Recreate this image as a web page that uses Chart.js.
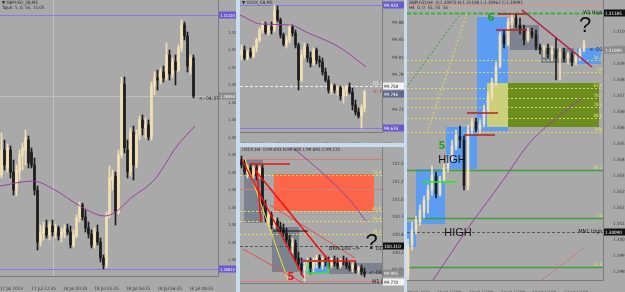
<!DOCTYPE html>
<html>
<head>
<meta charset="utf-8">
<title>Four MT4 panes</title>
<script src="https://cdn.jsdelivr.net/npm/chart.js@4.4.1/dist/chart.umd.min.js"></script>
<style>
  html, body { margin: 0; padding: 0; background: #a9a9a9; }
  body { position: relative; width: 625px; height: 292px; overflow: hidden; }
  .pane { position: absolute; }
  .sep { position: absolute; background: #c6dcef; }
</style>
</head>
<body>
<div class="pane" style="left:0;top:0;width:236px;height:292px"><canvas id="left"></canvas></div>
<div class="sep" style="left:236px;top:0;width:4px;height:292px"></div>
<div class="pane" style="left:240px;top:0;width:164px;height:143px"><canvas id="midTop"></canvas></div>
<div class="sep" style="left:240px;top:143px;width:164px;height:4px"></div>
<div class="pane" style="left:240px;top:147px;width:164px;height:145px"><canvas id="midBot"></canvas></div>
<div class="sep" style="left:404px;top:0;width:3px;height:292px"></div>
<div class="pane" style="left:407px;top:0;width:218px;height:292px"><canvas id="right"></canvas></div>
<script>
// ---------- left pane (GBPUSD M5) : [open, high, low, close] ----------
var leftCandles = [
  [1.30800,1.30884,1.30794,1.30850],[1.30850,1.30870,1.30810,1.30820],[1.30814,1.30862,1.30806,1.30854],
  [1.30850,1.30858,1.30794,1.30806],[1.30806,1.30830,1.30760,1.30770],[1.30770,1.30820,1.30758,1.30810],
  [1.30806,1.30850,1.30790,1.30840],[1.30838,1.30864,1.30810,1.30854],[1.30850,1.30890,1.30820,1.30874],
  [1.30870,1.30878,1.30814,1.30824],[1.30846,1.30854,1.30814,1.30820],[1.30820,1.30834,1.30760,1.30770],
  [1.30770,1.30778,1.30650,1.30666],[1.30666,1.30700,1.30658,1.30686],[1.30684,1.30706,1.30670,1.30694],
  [1.30694,1.30710,1.30674,1.30680],[1.30680,1.30706,1.30670,1.30700],[1.30698,1.30710,1.30678,1.30686],
  [1.30686,1.30702,1.30674,1.30694],[1.30694,1.30698,1.30670,1.30678],[1.30678,1.30694,1.30666,1.30686],
  [1.30686,1.30700,1.30674,1.30692],[1.30692,1.30702,1.30680,1.30686],[1.30686,1.30698,1.30654,1.30660],
  [1.30660,1.30690,1.30656,1.30680],[1.30678,1.30720,1.30674,1.30714],[1.30714,1.30746,1.30706,1.30740],
  [1.30740,1.30744,1.30710,1.30716],[1.30716,1.30730,1.30686,1.30694],[1.30694,1.30706,1.30674,1.30682],
  [1.30682,1.30690,1.30654,1.30660],[1.30660,1.30694,1.30654,1.30686],[1.30686,1.30700,1.30660,1.30666],
  [1.30666,1.30674,1.30626,1.30634],[1.30634,1.30640,1.30612,1.30620],[1.30620,1.30726,1.30614,1.30720],
  [1.30720,1.30818,1.30714,1.30794],[1.30790,1.30810,1.30770,1.30798],[1.30798,1.30806,1.30700,1.30726],
  [1.30726,1.30850,1.30722,1.30840],[1.30840,1.30996,1.30834,1.30982],[1.30982,1.30996,1.30844,1.30854],
  [1.30850,1.30870,1.30794,1.30806],[1.30806,1.30894,1.30798,1.30886],[1.30886,1.30898,1.30790,1.30820],
  [1.30820,1.30890,1.30814,1.30880],[1.30880,1.30918,1.30870,1.30910],[1.30910,1.30920,1.30880,1.30894],
  [1.30894,1.30914,1.30874,1.30900],[1.30900,1.30910,1.30870,1.30876],[1.30876,1.30986,1.30870,1.30978],
  [1.30978,1.31006,1.30960,1.30994],[1.30994,1.31010,1.30970,1.30990],[1.30990,1.31014,1.30982,1.31006],
  [1.31006,1.31018,1.30986,1.30994],[1.30994,1.31064,1.30990,1.31040],[1.31040,1.31050,1.30990,1.31002],
  [1.31002,1.31034,1.30994,1.31026],[1.31026,1.31040,1.30980,1.31010],[1.31010,1.31060,1.31006,1.31054],
  [1.31054,1.31110,1.31046,1.31100],[1.31100,1.31106,1.31070,1.31078],[1.31078,1.31086,1.31006,1.31018],
  [1.31018,1.31040,1.31002,1.31034],[1.31034,1.31040,1.30954,1.30958]
];
var leftMA = [[-0.5,1.30778],[10.5,1.30788],[17.8,1.30770],[26.2,1.30738],[34.5,1.30718],[38.5,1.30728],
  [42.8,1.30752],[51.2,1.30792],[58.5,1.30858],[64.5,1.30898]];
var leftTimes = ["17 Jul 2023", "17 Jul 22:35", "18 Jul 00:35", "18 Jul 02:35", "18 Jul 04:35", "18 Jul 06:35", "18 Jul 08:35"];
var leftTimeAt = [-0.5, 10, 20.5, 31, 41.5, 52, 62.5];
var leftPriceTicks = [1.31085,1.31050,1.31015,1.30980,1.30945,1.30910,1.30875,1.30840,1.30805,1.30770,1.30735,1.30700,1.30665,1.30630];
var leftRange = [1.31120, 1.30612];
var leftLast = 1.30958;
var leftSeparator = 17.2;

// ---------- middle top pane (USDX M5) ----------
var midTopCandles = [
  [99.820,99.840,99.810,99.830],[99.830,99.838,99.810,99.814],[99.814,99.830,99.810,99.826],
  [99.826,99.834,99.814,99.818],[99.818,99.838,99.814,99.834],[99.834,99.854,99.826,99.850],
  [99.850,99.874,99.846,99.870],[99.870,99.886,99.864,99.880],[99.880,99.886,99.862,99.866],
  [99.866,99.882,99.860,99.876],[99.876,99.886,99.862,99.870],[99.870,99.920,99.866,99.910],
  [99.910,99.918,99.886,99.890],[99.890,99.894,99.854,99.860],[99.860,99.864,99.838,99.842],
  [99.842,99.858,99.834,99.850],[99.850,99.882,99.844,99.876],[99.876,99.880,99.858,99.864],
  [99.864,99.870,99.834,99.840],[99.840,99.844,99.750,99.770],[99.770,99.830,99.766,99.820],
  [99.820,99.844,99.814,99.836],[99.836,99.842,99.806,99.814],[99.814,99.826,99.796,99.804],
  [99.804,99.834,99.800,99.830],[99.830,99.834,99.802,99.810],[99.810,99.818,99.796,99.806],
  [99.806,99.814,99.780,99.786],[99.786,99.794,99.766,99.770],[99.770,99.778,99.744,99.750],
  [99.750,99.762,99.742,99.758],[99.758,99.762,99.744,99.750],[99.750,99.758,99.740,99.754],
  [99.754,99.758,99.730,99.738],[99.738,99.756,99.724,99.750],[99.750,99.760,99.738,99.756],
  [99.756,99.764,99.742,99.746],[99.746,99.754,99.710,99.720],[99.720,99.730,99.700,99.706],
  [99.706,99.714,99.694,99.698],[99.698,99.720,99.674,99.714],[99.714,99.750,99.706,99.746]
];
var midTopMA = [[-0.5,99.900],[6.5,99.882],[16.5,99.880],[21.5,99.866],[32.5,99.836],[41.5,99.796]];
var midTopTimes = ["17 Jul 2023", "17 Jul 21:55", "18 Jul 04:55", "18 Jul 06:55", "18 Jul 08:55"];
var midTopTimeAt = [0, 11, 21, 31.5, 42];
var midTopPriceTicks = [99.885, 99.850, 99.815, 99.780, 99.745, 99.710];
var midTopRange = [99.920, 99.674];
var midTopDaily = 99.758;
var midTopLast = 99.746;

// ---------- middle bottom pane (USDX H4) ----------
var midBotCandles = [
  [101.600,101.660,101.480,101.525],[101.525,101.600,101.375,101.420],[101.420,101.525,101.330,101.480],
  [101.480,101.540,101.360,101.390],[101.390,101.510,101.330,101.480],[101.480,101.525,101.300,101.360],
  [101.360,101.510,101.330,101.480],[101.480,101.525,100.865,100.925],[100.925,101.000,100.670,100.730],
  [100.730,100.820,100.610,100.775],[100.775,100.820,100.565,100.625],[100.625,100.730,100.580,100.685],
  [100.685,100.730,100.550,100.595],[100.595,100.670,100.505,100.565],[100.565,100.640,100.460,100.505],
  [100.505,100.580,100.355,100.400],[100.400,100.475,100.250,100.310],[100.310,100.430,100.205,100.355],
  [100.355,100.400,100.070,100.130],[100.130,100.220,99.980,100.040],[100.040,100.130,99.875,99.950],
  [99.950,100.070,99.785,100.010],[100.010,100.130,99.920,100.070],[100.070,100.130,99.890,99.980],
  [99.980,100.130,99.920,100.070],[100.070,100.175,99.980,100.130],[100.130,100.175,99.980,100.025],
  [100.025,100.145,99.965,100.100],[100.100,100.160,100.010,100.070],[100.070,100.145,99.980,100.025],
  [100.025,100.130,99.980,100.100],[100.100,100.160,100.010,100.055],[100.055,100.130,99.965,100.010],
  [100.010,100.115,99.980,100.085],[100.085,100.160,100.025,100.070],[100.070,100.130,99.965,100.010],
  [100.010,100.070,99.935,99.980],[99.980,100.055,99.920,100.025],[100.025,100.070,99.905,99.950],
  [99.950,100.010,99.890,99.980],[99.980,100.025,99.875,99.920],[99.920,99.980,99.845,99.890]
];
var midBotMA = [[17.2,101.780],[22.8,101.570],[29.2,101.315],[35.8,101.015],[41.5,100.685]];
var midBotTimes = ["11 Jul 2023", "13 Jul 01:00", "14 Jul 09:00", "17 Jul 07:00"];
var midBotTimeAt = [0, 10.5, 21, 31.5];
var midBotPriceTicks = [101.540, 101.275, 101.010, 100.745, 100.480, 100.215, 99.950];
// boxes: [fromIndex, toIndex, topPrice, bottomPrice]
var midBotShade = [[0.83,7.17,101.615,100.655],[10.17,19.17,100.595,99.920],[29.17,47.17,100.055,99.890]];
var midBotSupply = [[10.83,44.17,101.390,100.835]];
var midBotBlue = [[19.83,28.83,100.115,99.905]];
var midBotGreen = [[22.17,28.83,100.085,99.905]];
// segments: [fromIndex, fromPrice, toIndex, toPrice]
var midBotChannel = [[0.17,101.600,20.83,99.830],[4.5,101.450,29.5,100.070],[5.17,101.450,6.5,100.670],
  [2.83,101.540,16.17,101.540],[19.83,100.085,38.17,100.085]];
var midBotChannelSoft = [[9.5,100.925,37.83,100.130],[0.5,100.265,20.5,99.755]];
var midBotYellowRay = [1.17,101.615,15.5,99.800];
var midBotBlackLevel = [10.5,100.535,22.17,100.535];
var midBotFib = [101.375, 100.835, 100.685, 100.490];
var midBotFibNames = ["23.6", "61.8", "76.4", "38.2"];
var midBotRedLevels = [101.615, 101.165, 99.785];
var midBotDailyHigh = 100.310;
var midBotLast = 99.905;
var midBotWeeklyLow = 99.770;

// ---------- right pane (GBPUSD H4) ----------
var rightCandles = [
  [1.29870,1.30055,1.29850,1.30025],[1.30025,1.30140,1.30000,1.30100],[1.30100,1.30170,1.30080,1.30150],
  [1.30140,1.30225,1.30125,1.30200],[1.30190,1.30270,1.30160,1.30250],[1.30250,1.30325,1.30185,1.30300],
  [1.30300,1.30420,1.30275,1.30375],[1.30370,1.30390,1.30260,1.30280],[1.30280,1.30370,1.30270,1.30350],
  [1.30350,1.30430,1.30340,1.30410],[1.30410,1.30475,1.30390,1.30460],[1.30460,1.30550,1.30440,1.30520],
  [1.30520,1.30600,1.30500,1.30575],[1.30570,1.30620,1.30510,1.30550],[1.30550,1.30570,1.30300,1.30320],
  [1.30320,1.30625,1.30300,1.30600],[1.30600,1.30660,1.30580,1.30640],[1.30640,1.30660,1.30590,1.30605],
  [1.30605,1.30650,1.30585,1.30630],[1.30630,1.30725,1.30615,1.30700],[1.30700,1.30790,1.30680,1.30770],
  [1.30770,1.30860,1.30750,1.30840],[1.30840,1.30940,1.30820,1.30920],[1.30920,1.31090,1.30910,1.31075],
  [1.31075,1.31100,1.31010,1.31030],[1.31030,1.31160,1.31020,1.31140],[1.31140,1.31185,1.31110,1.31160],
  [1.31160,1.31180,1.31110,1.31125],[1.31125,1.31160,1.31080,1.31100],[1.31100,1.31125,1.31025,1.31050],
  [1.31050,1.31110,1.31040,1.31090],[1.31090,1.31110,1.31060,1.31075],[1.31075,1.31100,1.31000,1.31015],
  [1.31015,1.31030,1.30980,1.31000],[1.31000,1.31025,1.30965,1.31010],[1.31010,1.31030,1.30960,1.30980],
  [1.30980,1.31020,1.30950,1.31000],[1.31000,1.31060,1.30850,1.30960],[1.30960,1.31010,1.30850,1.30990],
  [1.30990,1.31010,1.30940,1.30960],[1.30960,1.30990,1.30930,1.30975],[1.30975,1.30990,1.30920,1.30940],
  [1.30940,1.30980,1.30925,1.30965],[1.30965,1.31010,1.30950,1.31000],[1.31000,1.31050,1.30990,1.31030]
];
var rightMA = [[4.75,1.29805],[15.75,1.30130],[24,1.30355],[29.75,1.30520],[36.5,1.30650],[43.5,1.30760]];
var rightTimes = ["10 Jul 2023", "11 Jul 17:00", "12 Jul 17:00", "13 Jul 17:00", "14 Jul 17:00", "17 Jul 17:00"];
var rightTimeAt = [-0.25, 7.25, 15.25, 23.25, 31, 39];
var rightPriceTicks = [1.31090,1.31010,1.30930,1.30850,1.30770,1.30690,1.30610,1.30530,1.30450,1.30370,
  1.30290,1.30210,1.30130,1.30050,1.29970,1.29890];
var rightBlue = [[-0.5,2,1.30140,1.30015],[2,9.25,1.30405,1.30130],[9.5,17.25,1.30615,1.30405],
  [17.25,25,1.31165,1.30595],[42.25,48.25,1.31010,1.30930]];
var rightPale = [[19.75,25,1.30835,1.30615]];
var rightOlive = [[25,47.75,1.30835,1.30615]];
var rightShade = [[25.5,32.75,1.31125,1.31000],[33.25,41.5,1.31010,1.30935]];
var rightTrend = [28.5,1.31200,46,1.30915];
var rightRedMarks = [[22.5,1.31180,29.5,1.31180],[22,1.31100,29.75,1.31100],[14.75,1.30685,22.5,1.30685],[14,1.30575,21.75,1.30575]];
var rightGreenRay = [-0.5,1.30810,13.25,1.31185];
var rightYellowRay = [4.75,1.30585,14.75,1.31185];
var rightRedRay = [29.5,1.29790,44,1.30010];
var rightLime = [3.5,1.30340,12.25,1.30340];
var rightYellowFib = [1.30950,1.30890,1.30810,1.30760,1.30715,1.30660,1.30590];
var rightYellowNames = ["38.2","50","61.8","70.7","78.6","88.6","100"];
var rightGreenFib = [1.30400,1.30160,1.29915];
var rightGreenNames = ["38.2","50","61.8"];
var rightWeeklyHigh = 1.31185;
var rightTopRed = 1.31230;
var rightMonthlyHigh = 1.30090;
var rightLast = 1.31000;

var FONT = "'DejaVu Sans', sans-serif";
var SMALL = "'DejaVu Sans Condensed', 'DejaVu Sans', sans-serif";
var BULL = '#f3dfb4', BEAR = '#1c1c1c';
var painters = {};

function tools(chart, tickSize) {
  var ctx = chart.ctx, a = chart.chartArea;
  var X = function (v) { return chart.scales.x.getPixelForValue(v); };
  var Y = function (v) { return chart.scales.y.getPixelForValue(v); };
  var t = {
    ctx: ctx, a: a, X: X, Y: Y,
    box: function (b, fill, stroke, w) {
      var x0 = X(b[0]), x1 = X(b[1]), y0 = Y(b[2]), y1 = Y(b[3]);
      if (fill) { ctx.fillStyle = fill; ctx.fillRect(x0, y0, x1 - x0, y1 - y0); }
      if (stroke) { ctx.strokeStyle = stroke; ctx.lineWidth = w || 1; ctx.strokeRect(x0, y0, x1 - x0, y1 - y0); }
    },
    line: function (x0, y0, x1, y1, color, w, dash) {
      ctx.beginPath(); ctx.setLineDash(dash || []);
      ctx.strokeStyle = color; ctx.lineWidth = w || 1;
      ctx.moveTo(x0, y0); ctx.lineTo(x1, y1); ctx.stroke(); ctx.setLineDash([]);
    },
    hline: function (p, color, dash, w) { var y = Math.round(Y(p)) + 0.5; t.line(a.left, y, a.right, y, color, w, dash); },
    vline: function (i, color, dash) { var x = Math.round(X(i)) + 0.5; t.line(x, a.top, x, a.bottom, color, 1, dash); },
    seg: function (s, color, w, dash) { t.line(X(s[0]), Y(s[1]), X(s[2]), Y(s[3]), color, w, dash); },
    text: function (str, i, p, font, color, align, base) {
      ctx.font = font; ctx.fillStyle = color; ctx.textAlign = align || 'left'; ctx.textBaseline = base || 'middle';
      ctx.fillText(str, X(i), Y(p));
    },
    marker: function (p, str, fill, ink) {
      var y = Math.round(Y(p));
      ctx.fillStyle = fill; ctx.fillRect(a.right + 1, y - 3.5, chart.width - a.right - 1, 7);
      ctx.font = tickSize + 'px ' + SMALL; ctx.fillStyle = ink; ctx.textAlign = 'left'; ctx.textBaseline = 'middle';
      ctx.fillText(str, a.right + 2, y + 0.5);
    },
    label: function (str, x, y, color) {
      ctx.font = '4.5px ' + SMALL; ctx.fillStyle = color || '#2a2a2a';
      ctx.textAlign = 'left'; ctx.textBaseline = 'middle'; ctx.fillText(str, x, y);
    }
  };
  return t;
}

function paint(chart, layer, clip) {
  var p = painters[chart.canvas.id];
  if (!p || !p[layer]) return;
  var a = chart.chartArea, ctx = chart.ctx;
  ctx.save();
  if (clip) { ctx.beginPath(); ctx.rect(a.left, a.top, a.right - a.left, a.bottom - a.top); ctx.clip(); }
  p[layer](tools(chart, p.tickSize));
  ctx.restore();
}

Chart.register({
  id: 'overlay',
  beforeDatasetsDraw: function (chart) { paint(chart, 'back', true); },
  afterDatasetsDraw: function (chart) { paint(chart, 'front', true); },
  afterDraw: function (chart) { paint(chart, 'axis', false); }
});

function makePane(id, o) {
  var col = o.candles.map(function (c) { return c[3] >= c[0] ? BULL : BEAR; });
  return new Chart(document.getElementById(id), {
    type: 'bar',
    data: {
      datasets: [
        { type: 'line', data: o.ma.map(function (p) { return { x: p[0], y: p[1] }; }),
          borderColor: '#9a3fa0', borderWidth: 1, pointRadius: 0, cubicInterpolationMode: 'monotone', order: 0 },
        { data: o.candles.map(function (c, i) { return { x: i, y: [c[2], c[1]] }; }),
          backgroundColor: col, barThickness: 1, grouped: false, order: 2 },
        { data: o.candles.map(function (c, i) { return { x: i, y: [c[0], c[3]] }; }),
          backgroundColor: col, barThickness: o.body, minBarLength: 1, grouped: false, order: 1 }
      ]
    },
    options: {
      responsive: true, maintainAspectRatio: false, animation: false, events: [],
      layout: { padding: 0 },
      plugins: { legend: { display: false }, tooltip: { enabled: false } },
      scales: {
        x: {
          type: 'linear', min: o.xMin, max: o.xMax, offset: false,
          grid: { display: false }, border: { display: true, color: '#7c7c7c' },
          afterBuildTicks: function (s) { s.ticks = o.timeAt.map(function (v) { return { value: v }; }); },
          afterFit: function (s) { s.height = o.xH; s.paddingLeft = 0; s.paddingRight = 0; },
          ticks: { autoSkip: false, maxRotation: 0, align: 'start', padding: 2, color: '#3a3a3a',
            font: { size: 4.5, family: SMALL }, callback: function (v, i) { return o.times[i]; } }
        },
        y: {
          position: 'right', min: o.yMin, max: o.yMax,
          grid: { display: false }, border: { display: true, color: '#7c7c7c' },
          afterBuildTicks: function (s) { s.ticks = o.priceTicks.map(function (v) { return { value: v }; }); },
          afterFit: function (s) { s.width = o.yW; s.paddingTop = 0; s.paddingBottom = 0; },
          ticks: { padding: 2, color: '#3a3a3a', font: { size: o.tickSize, family: SMALL },
            callback: function (v) { return v.toFixed(o.dec); } }
        }
      }
    }
  });
}

// ---- painters ----
painters.left = {
  tickSize: 4,
  back: function (t) {
    t.vline(leftSeparator, 'rgba(215,215,215,0.6)');
    leftRange.forEach(function (p) { t.hline(p, '#8b78e6'); });
    t.hline(leftLast, '#bdbdbd');
  },
  front: function (t) { t.text('<--04:37', 65.8, leftLast, '5px ' + SMALL, '#222', 'left', 'top'); },
  axis: function (t) {
    leftRange.forEach(function (p) { t.marker(p, p.toFixed(5), '#6a5acd', '#fff'); });
    t.marker(leftLast, leftLast.toFixed(5), '#8a8a8a', '#fff');
    t.label('\u25BC GBPUSD_SB,M5', 2, 3);
    t.label('Tajuk: 5, 0, 55, 15.05', 2, 8);
  }
};

painters.midTop = {
  tickSize: 4.5,
  back: function (t) {
    midTopRange.forEach(function (p) { t.hline(p, '#8b78e6'); });
    t.hline(midTopDaily, '#ececec', [3, 2]);
  },
  front: function (t) {
    t.text('D1 L', 43.8, midTopDaily, '5px ' + SMALL, '#f4f4f4', 'left', 'bottom');
    t.text('<--04', 43.8, midTopLast, '5px ' + SMALL, '#d02020', 'left', 'middle');
  },
  axis: function (t) {
    midTopRange.forEach(function (p) { t.marker(p, p.toFixed(3), '#6a5acd', '#fff'); });
    t.marker(midTopDaily, midTopDaily.toFixed(3), '#f2f2f2', '#222');
    t.marker(midTopLast - 0.004, midTopLast.toFixed(3), '#5d6a8c', '#fff');
    t.label('\u25BC USDX_SB,M5', 2, 3);
  }
};

painters.midBot = {
  tickSize: 4.5,
  back: function (t) {
    midBotShade.forEach(function (b) { t.box(b, 'rgba(72,84,108,0.45)'); });
    midBotSupply.forEach(function (b) { t.box(b, '#fb6548'); });
    midBotBlue.forEach(function (b) { t.box(b, '#5c9cf2'); });
    midBotFib.forEach(function (p) { t.hline(p, '#e2dc5a', [2, 2]); });
    midBotRedLevels.forEach(function (p) { t.hline(p, '#d97a7a'); });
    t.hline(midBotDailyHigh, '#555', [3, 2]);
  },
  front: function (t) {
    midBotGreen.forEach(function (b) { t.box(b, null, '#39e039', 1.5); });
    t.seg(midBotYellowRay, '#f0e040', 1);
    midBotChannelSoft.forEach(function (s) { t.seg(s, '#e05050', 1); });
    midBotChannel.forEach(function (s) { t.seg(s, '#ee1111', 1.5); });
    t.seg(midBotBlackLevel, '#111', 1);
    midBotFib.forEach(function (p, k) { t.text(midBotFibNames[k], 46.6, p, '4.5px ' + SMALL, '#e8e070', 'right', 'bottom'); });
    t.text('BRN 100 -->', 29.2, midBotDailyHigh - 0.045, '5.5px ' + SMALL, '#151515', 'left', 'middle');
    t.text('D1 Hi', 44.8, midBotDailyHigh, '5px ' + SMALL, '#151515', 'left', 'top');
    t.text('5', 16.5, 99.845, 'bold 10px ' + FONT, '#ee1111', 'center', 'middle');
    t.text('?', 43.4, 100.36, '22px "Liberation Sans"', '#111', 'center', 'middle');
    t.text('<--04', 42.5, midBotLast, '5px ' + SMALL, '#151515', 'left', 'middle');
    t.text('W1 L', 43.5, midBotWeeklyLow, '5px ' + SMALL, '#151515', 'left', 'middle');
  },
  axis: function (t) {
    t.marker(midBotDailyHigh, midBotDailyHigh.toFixed(3), '#111', '#fff');
    t.marker(midBotLast, midBotLast.toFixed(3), '#8a8a8a', '#fff');
    t.marker(midBotWeeklyLow, midBotWeeklyLow.toFixed(3), '#f2f2f2', '#222');
    t.label('USDX,H4  O:99.693 H:99.695 L:99.695 C:99.725', 2, 3);
  }
};

painters.right = {
  tickSize: 4.5,
  back: function (t) {
    t.hline(rightTopRed, '#e08a8a');
    rightBlue.forEach(function (b) { t.box(b, '#5c9cf2'); });
    rightPale.forEach(function (b) { t.box(b, '#c9cf7c'); });
    rightOlive.forEach(function (b) { t.box(b, '#6b8e1f'); });
    rightShade.forEach(function (b) { t.box(b, 'rgba(72,84,108,0.45)'); });
    rightYellowFib.forEach(function (p) { t.hline(p, '#ddd65a', [2, 2]); });
    rightGreenFib.forEach(function (p) { t.hline(p, '#3f9f3f', [], 1.5); });
    t.hline(rightMonthlyHigh, '#5a5a5a', [3, 2]);
    t.hline(rightWeeklyHigh, '#3fae3f', [4, 2], 2);
    t.seg(rightGreenRay, '#3a9a3a', 1, [2, 2]);
    t.seg(rightYellowRay, '#e6dc50', 1, [2, 2]);
    t.seg(rightRedRay, '#e05a5a', 1, [2, 2]);
  },
  front: function (t) {
    rightRedMarks.forEach(function (s) { t.seg(s, '#b82020', 1.5); });
    t.seg(rightLime, '#22ee22', 1.5);
    t.seg(rightTrend, '#b01e46', 1.5);
    rightYellowFib.forEach(function (p, k) { t.text(rightYellowNames[k], 48.6, p, '4.5px ' + SMALL, '#e8e070', 'right', 'bottom'); });
    rightGreenFib.forEach(function (p, k) { t.text(rightGreenNames[k], 48.6, p, '4.5px ' + SMALL, '#d8e070', 'right', 'bottom'); });
    t.text('HIGH', 11, 1.30450, '11px "Liberation Sans"', '#111', 'center', 'middle');
    t.text('HIGH', 12.5, 1.30085, '11px "Liberation Sans"', '#111', 'center', 'middle');
    t.text('5', 8.5, 1.30520, 'bold 10px ' + FONT, '#2a9a2a', 'center', 'middle');
    t.text('6', 20.75, 1.31160, 'bold 10px ' + FONT, '#2a9a2a', 'center', 'middle');
    t.text('?', 44.25, 1.31120, '22px "Liberation Sans"', '#111', 'center', 'middle');
    t.text('W1 High', 48.6, rightWeeklyHigh, '5px ' + SMALL, '#151515', 'right', 'middle');
    t.text('<--D1:1', 45.3, rightLast, '5px ' + SMALL, '#151515', 'left', 'middle');
    t.text('MN1 High', 48.6, rightMonthlyHigh, '5.5px ' + SMALL, '#151515', 'right', 'middle');
  },
  axis: function (t) {
    t.marker(rightWeeklyHigh, rightWeeklyHigh.toFixed(5), '#111', '#fff');
    t.marker(rightLast, rightLast.toFixed(5), '#8a8a8a', '#fff');
    t.marker(rightMonthlyHigh, rightMonthlyHigh.toFixed(5), '#111', '#fff');
    t.label('GBPUSD,H4  O:1.30973 H:1.31108 L:1.30962 C:1.30991', 2, 3);
    t.label('H4  0, 0  55, 55  55', 2, 8);
  }
};

// ---- panes ----
makePane('left', { candles: leftCandles, ma: leftMA, times: leftTimes, timeAt: leftTimeAt, priceTicks: leftPriceTicks,
  xMin: -0.5, xMax: 72.17, yMin: 1.30598, yMax: 1.31150, xH: 16, yW: 18, dec: 5, body: 2, tickSize: 4 });
makePane('midTop', { candles: midTopCandles, ma: midTopMA, times: midTopTimes, timeAt: midTopTimeAt, priceTicks: midTopPriceTicks,
  xMin: -0.5, xMax: 46.83, yMin: 99.666, yMax: 99.930, xH: 11, yW: 22, dec: 3, body: 2, tickSize: 4.5 });
makePane('midBot', { candles: midBotCandles, ma: midBotMA, times: midBotTimes, timeAt: midBotTimeAt, priceTicks: midBotPriceTicks,
  xMin: -0.5, xMax: 46.83, yMin: 99.755, yMax: 101.795, xH: 9, yW: 22, dec: 3, body: 2, tickSize: 4.5 });
makePane('right', { candles: rightCandles, ma: rightMA, times: rightTimes, timeAt: rightTimeAt, priceTicks: rightPriceTicks,
  xMin: -0.25, xMax: 48.75, yMin: 1.29850, yMax: 1.31250, xH: 12, yW: 22, dec: 5, body: 2, tickSize: 4.5 });
</script>
</body>
</html>
